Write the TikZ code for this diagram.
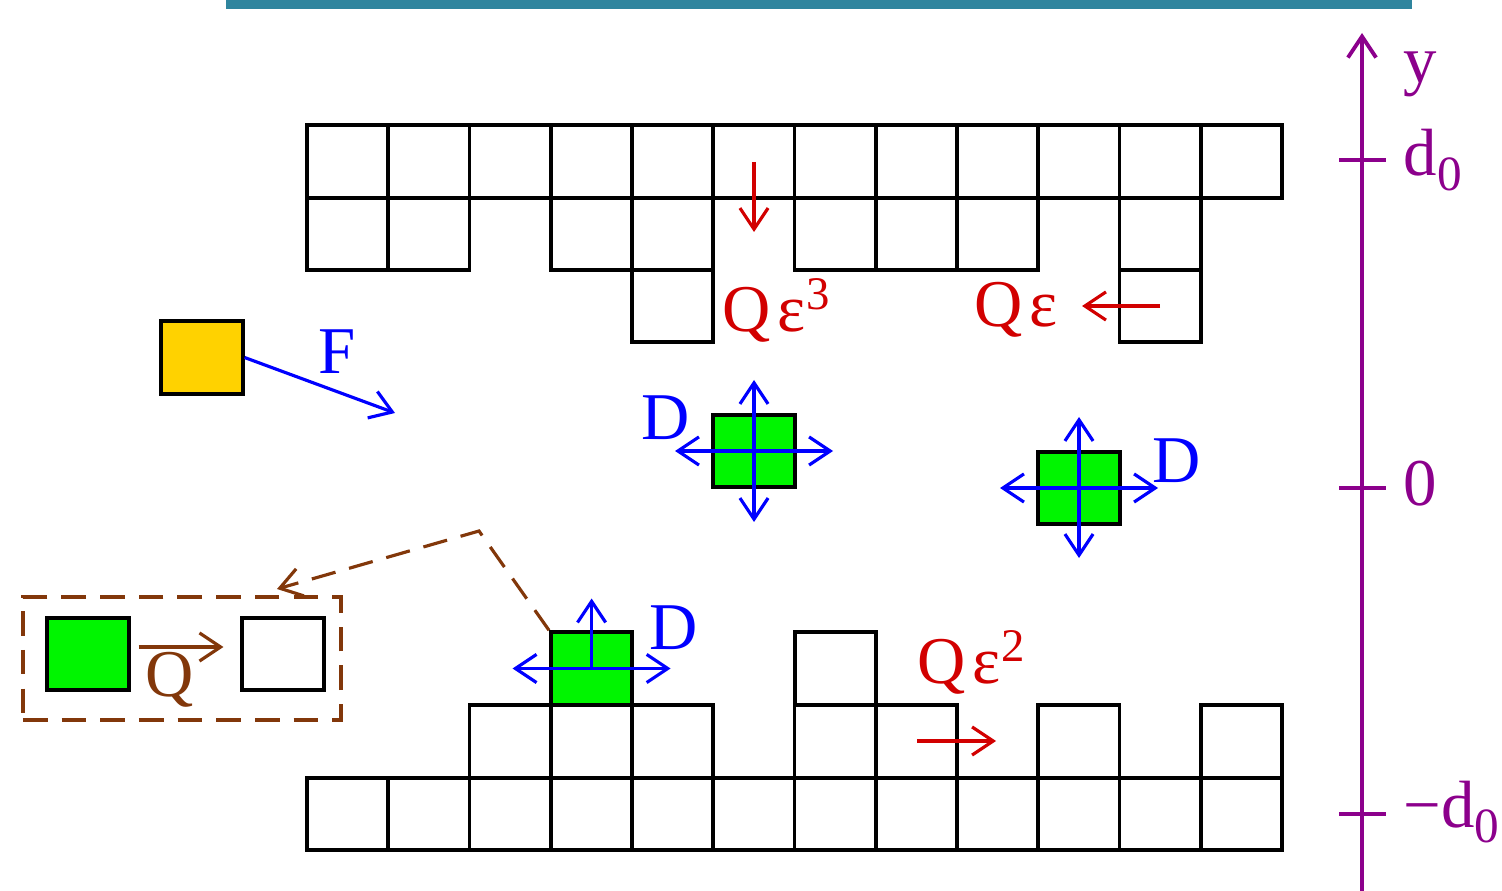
\documentclass[tikz,border=0pt]{standalone}
\usepackage{fontspec}
\setmainfont{Liberation Serif}
\usepackage{tikz}
\definecolor{barteal}{RGB}{47,133,158}
\definecolor{hopred}{RGB}{210,0,0}
\definecolor{axispurple}{RGB}{140,0,140}
\definecolor{linkbrown}{RGB}{130,55,10}
\definecolor{gold}{RGB}{255,210,0}
\definecolor{mobile}{RGB}{0,245,0}
\usetikzlibrary{arrows.meta, positioning, calc}
\newcommand{\dsub}{\raisebox{-4.5pt}{\fontsize{14}{16}\selectfont 0}}

\begin{document}
\begin{tikzpicture}[
    x=0.01cm, y=-0.01cm,
    >={Straight Barb[length=6pt,width=8pt]},
    cellbox/.style={draw=black, line width=1.1pt},
    atom/.style={draw=black, line width=1.1pt, fill=#1, inner sep=0pt,
                 minimum width=0.8125cm, minimum height=0.725cm},
    darr/.style={->, blue, line width=0.9pt},
    qarr/.style={->, hopred, line width=0.9pt},
    lbl/.style={font=\fontsize{19}{22}\selectfont, inner sep=0pt}
]
    \useasboundingbox (0,0) rectangle (1502,891);
    \fill[barteal] (226,0) rectangle (1412,9);

    % upper wall
    \foreach \c in {0,...,11}
        \draw[cellbox] ({307+81.25*\c},125) rectangle ++(81.25,73);
    \foreach \c in {0,1,3,4,6,7,8,10}
        \draw[cellbox] ({307+81.25*\c},198) rectangle ++(81.25,72);
    \foreach \c in {4,10}
        \draw[cellbox] ({307+81.25*\c},270) rectangle ++(81.25,72);

    % lower wall
    \foreach \c in {0,...,11}
        \draw[cellbox] ({307+81.25*\c},778) rectangle ++(81.25,72);
    \foreach \c in {2,3,4,6,7,9,11}
        \draw[cellbox] ({307+81.25*\c},705) rectangle ++(81.25,73);
    \draw[cellbox] (795,632) rectangle ++(81.25,73);

    % mobile atoms
    \node[atom=mobile] (free1) at (754,451) {};
    \node[atom=mobile] (free2) at (1079,488) {};
    \node[atom=mobile] (stuck) at (591.6,668.5) {};
    \node[atom=gold] (incoming) at (202,357.5) {};

    \draw[darr] (free1.center) -- ++(0,-71);
    \draw[darr] (free1.center) -- ++(0,71);
    \draw[darr] (free1.center) -- ++(-79,0);
    \draw[darr] (free1.center) -- ++(79,0);
    \draw[darr] (free2.center) -- ++(0,-71);
    \draw[darr] (free2.center) -- ++(0,70);
    \draw[darr] (free2.center) -- ++(-79,0);
    \draw[darr] (free2.center) -- ++(79,0);
    \draw[darr] (stuck.center) -- ++(0,-70);
    \draw[darr] (stuck.center) -- ++(-79,0);
    \draw[darr] (stuck.center) -- ++(79,0);

    \node[lbl, blue] (dfree1) at (666,418) {D};
    \node[lbl, blue] (dfree2) at (1177,461) {D};
    \node[lbl, blue] (dstuck) at (674,628) {D};

    % deposition flux
    \coordinate (ftip) at (395,413);
    \draw[darr] (incoming.east) -- (ftip);
    \node[lbl, blue] (flux) at (337,352) {F};

    % hopping rates
    \draw[qarr] (754,162) -- (754,232);
    \node[lbl, hopred, anchor=west] (rate3) at (722,310) {Q\kern2ptε\textsuperscript{3}};
    \draw[qarr] (1160,306) -- (1082,306);
    \node[lbl, hopred, anchor=west] (rate1) at (974,310) {Q\kern2ptε};
    \draw[qarr] (917,741) -- (996,741);
    \node[lbl, hopred, anchor=west] (rate2) at (917,662) {Q\kern2ptε\textsuperscript{2}};

    % zoomed hop
    \node[draw=linkbrown, line width=1.1pt, dash pattern=on 7pt off 4pt,
          minimum width=3.18cm, minimum height=1.23cm] (inset) at (182,658.5) {};
    \node[atom=mobile] (from) at (88,654) {};
    \node[atom=white] (to) at (283,654) {};
    \draw[->, linkbrown, line width=0.9pt] ($(from.east)+(8,-7)$) -- ($(to.west)+(-17,-7)$);
    \node[lbl, linkbrown] (hop) at (170,680) {Q};
    \coordinate (bend) at (479,531);
    \coordinate (insettip) at (277,589);
    \draw[->, linkbrown, line width=0.9pt, dash pattern=on 7pt off 4pt]
        (stuck.north west) -- (bend) -- (insettip);

    % height axis
    \draw[->, axispurple, line width=1.1pt] (1362,891) -- (1362,33);
    \foreach \h in {160,488,814}
        \draw[axispurple, line width=0.9pt] (1339,\h) -- (1386,\h);
    \node[lbl, axispurple] (ylab) at (1420,74) {y};
    \node[lbl, axispurple, anchor=west] (top) at (1403,160) {d\dsub};
    \node[lbl, axispurple, anchor=west] (mid) at (1403,484) {0};
    \node[lbl, axispurple, anchor=west] (bot) at (1403,812) {−d\dsub};
\end{tikzpicture}
\end{document}
